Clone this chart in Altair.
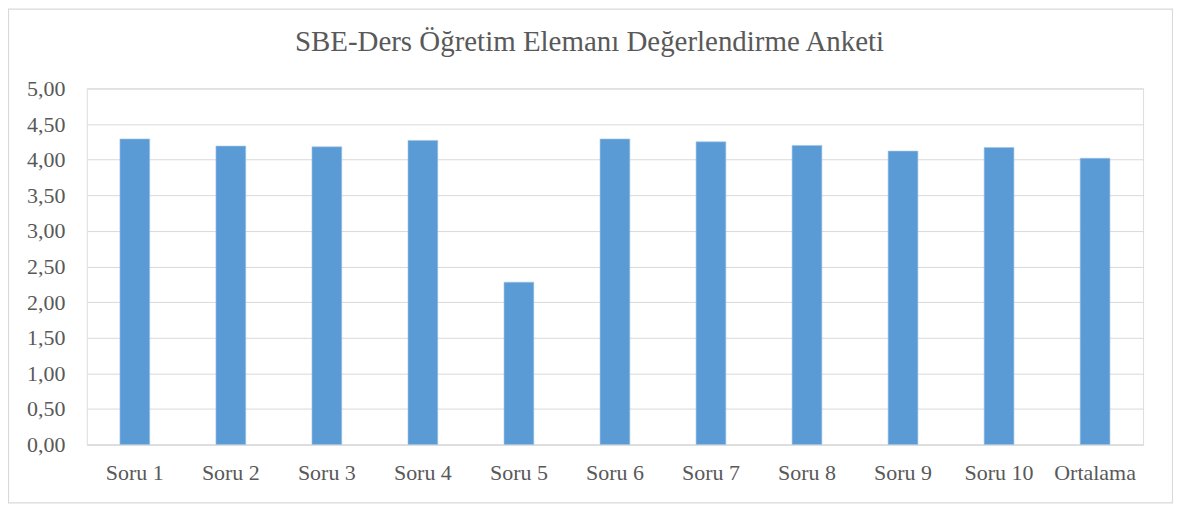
import altair as alt
import pandas as pd

categories = ["Soru 1", "Soru 2", "Soru 3", "Soru 4", "Soru 5", "Soru 6",
              "Soru 7", "Soru 8", "Soru 9", "Soru 10", "Ortalama"]
values = [4.29, 4.19, 4.18, 4.27, 2.28, 4.29, 4.25, 4.20, 4.12, 4.17, 4.02]
y_ticks = [0, 0.5, 1, 1.5, 2, 2.5, 3, 3.5, 4, 4.5, 5]
title_text = "SBE-Ders Öğretim Elemanı Değerlendirme Anketi"

df = pd.DataFrame({"cat": categories, "val": values})

FONT = "Liberation Serif"
GRAY = "#595959"
GRID = "#d9d9d9"

bars = alt.Chart(df).mark_bar(color="#5b9bd5", stroke="#9dc3e6", strokeWidth=0.6).encode(
    x=alt.X("cat:N", sort=categories, title=None,
            scale=alt.Scale(paddingInner=0.69, paddingOuter=0.345),
            axis=alt.Axis(labelAngle=0, labelFont=FONT, labelFontSize=22,
                          labelColor=GRAY, labelPadding=18, ticks=False,
                          domainColor=GRID, domainWidth=1, grid=False)),
    y=alt.Y("val:Q", title=None,
            scale=alt.Scale(domain=[0, 5], nice=False),
            axis=alt.Axis(values=y_ticks, labelFont=FONT, labelFontSize=22,
                          labelColor=GRAY, labelPadding=22, ticks=False,
                          domain=False, gridColor=GRID, gridWidth=1,
                          labelExpr="replace(format(datum.value, '.2f'), '.', ',')")),
)

frame_df = pd.DataFrame({"k": [0]})

frame = alt.Chart(frame_df).mark_rect(
    filled=False, stroke=GRID, strokeWidth=1.2, clip=False
).encode(
    x=alt.value(-78.5), x2=alt.value(1088.5),
    y=alt.value(-79.5), y2=alt.value(415.5)
)

title = alt.Chart(pd.DataFrame({"t": [title_text]})).mark_text(
    font=FONT, fontSize=29, color=GRAY, align="center", baseline="alphabetic"
).encode(text="t:N", x=alt.value(504), y=alt.value(-38))

chart = alt.layer(frame, bars, title).properties(
    width=1059, height=357,
    padding={"left": 79, "top": 80, "right": 30, "bottom": 59},
    autosize=alt.AutoSizeParams(type="none"),
).configure_view(stroke=None).configure(background="white")

chart.save("out.html", embed_options={"renderer": "svg", "actions": False})
